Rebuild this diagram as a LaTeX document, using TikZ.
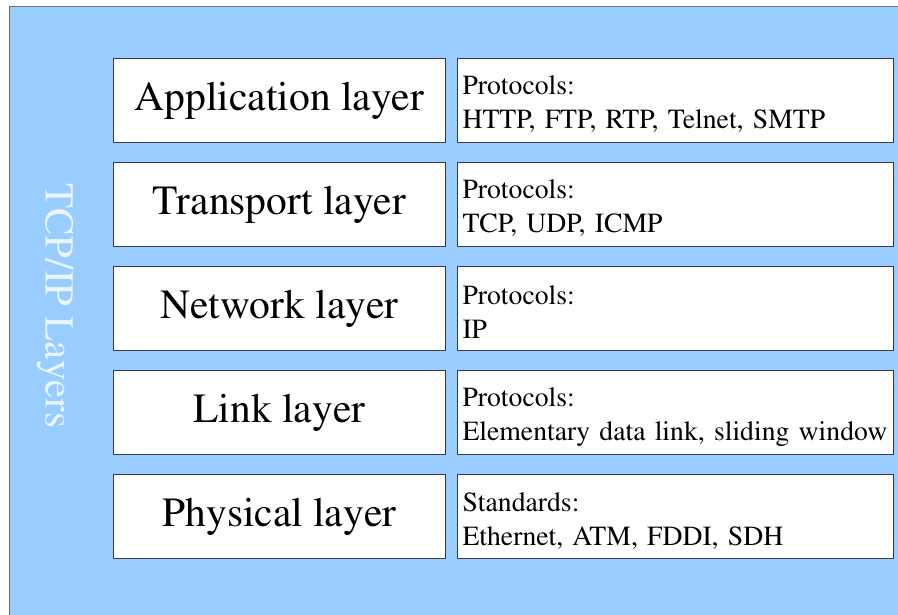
\documentclass[tikz,border=0pt]{standalone}
\usepackage[T1]{fontenc}
\usepackage{mathptmx}
\usetikzlibrary{positioning}
\definecolor{tcpsky}{HTML}{99CCFF}
\definecolor{tcpedge}{HTML}{33384A}
\definecolor{tcpframe}{HTML}{6E6E6E}
\definecolor{tcplabel}{HTML}{EAF5FF}
\newcommand{\proto}[2]{\rule{0pt}{27pt}#1\\#2}
\tikzset{
    layerbox/.style={draw=tcpedge,fill=white,line width=1pt,minimum width=332pt,minimum height=84pt,inner sep=0pt,font=\fontsize{41.5}{48}\selectfont},
    protobox/.style={draw=tcpedge,fill=white,line width=1pt,text width=426pt,inner xsep=5pt,inner ysep=0pt,minimum height=84pt,align=left,font=\fontsize{27.7}{34}\selectfont},
    stacklabel/.style={rotate=-90,text=tcplabel,font=\fontsize{41}{48}\selectfont},
}

\begin{document}
\begin{tikzpicture}[x=1pt,y=-1pt,node distance=19pt]
    \useasboundingbox (0,0) rectangle (898,615);
    \draw[tcpframe,fill=tcpsky,line width=1pt] (9,7) rectangle (900,617);

    \node[stacklabel] (stack) at (55,306) {TCP/IP Layers};

    \node[layerbox,anchor=north west] (app) at (113,58) {Application layer};
    \node[layerbox,below=of app] (trans) {Transport layer};
    \node[layerbox,below=of trans] (net) {Network layer};
    \node[layerbox,below=of net] (link) {Link layer};
    \node[layerbox,below=of link] (phys) {Physical layer};

    \node[protobox,right=11pt of app] (appP) {\proto{Protocols:}{HTTP, FTP, RTP, Telnet, SMTP}};
    \node[protobox,right=11pt of trans] (transP) {\proto{Protocols:}{TCP, UDP, ICMP}};
    \node[protobox,right=11pt of net] (netP) {\proto{Protocols:}{IP}};
    \node[protobox,right=11pt of link] (linkP) {\proto{Protocols:}{Elementary data link, sliding window}};
    \node[protobox,right=11pt of phys] (physP) {\proto{Standards:}{Ethernet, ATM, FDDI, SDH}};
\end{tikzpicture}
\end{document}
